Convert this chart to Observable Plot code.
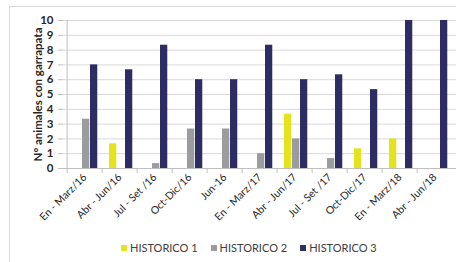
<!DOCTYPE html>
<html>
<head>
<meta charset="utf-8">
<script src="https://cdn.jsdelivr.net/npm/d3@7"></script>
<script src="https://cdn.jsdelivr.net/npm/@observablehq/plot@0.6"></script>
<style>
  html, body { margin: 0; padding: 0; background: #fff; }
  body { width: 456px; height: 262px; position: relative; overflow: hidden; font-family: Lato, "Open Sans", sans-serif; }
  #border { position: absolute; left: 9px; top: 6px; width: 460px; height: 270px; border-left: 1px solid #d9d9d9; border-top: 1px solid #d9d9d9; box-sizing: border-box; }
  #chart { position: absolute; left: 0; top: 0; }
  #chart svg { overflow: visible; }
  g[aria-label="y-axis label"] text { font-weight: bold; }
  g[aria-label="y-axis tick label"] text { font-weight: bold; }
  #legend { position: absolute; left: 121px; top: 241px; display: flex; align-items: center; font-size: 11px; color: #404040; white-space: nowrap; }
  #legend .item { display: flex; align-items: center; margin-right: 13px; }
  #legend .sw { width: 6px; height: 6px; margin-right: 3px; }
</style>
</head>
<body>
<div id="border"></div>
<div id="chart"></div>
<div id="legend"></div>
<script>
const categories = ["En - Marz/16", "Abr - Jun/16", "Jul - Set /16", "Oct-Dic/16", "Jun-16", "En - Marz/17", "Abr - Jun/17", "Jul - Set /17", "Oct-Dic/17", "En - Marz/18", "Abr - Jun/18"];
const seriesNames = ["HISTORICO 1", "HISTORICO 2", "HISTORICO 3"];
const historico1 = [0, 1.67, 0, 0, 0, 0, 3.67, 0, 1.33, 2, 0];
const historico2 = [3.33, 0, 0.33, 2.67, 2.67, 1, 2, 0.67, 0, 0, 0];
const historico3 = [7, 6.67, 8.33, 6, 6, 8.33, 6, 6.33, 5.33, 10, 10];
const colors = ["#e4e31e", "#9a9c9e", "#2d2c63"];
const yTicks = [0, 1, 2, 3, 4, 5, 6, 7, 8, 9, 10];

const W = 456, H = 236, mL = 63, mR = 0, mT = 20, mB = 68;
const step = (W - mL - mR) / categories.length;
const barW = 8, firstOffset = 7;

const seriesValues = [historico1, historico2, historico3];
const barMarks = seriesValues.map((vals, k) => {
  const data = categories.map((c, i) => ({cat: c, value: vals[i]}));
  return Plot.barY(data, {
    x: "cat", y1: 0, y2: "value",
    fill: colors[k],
    insetLeft: firstOffset + barW * k,
    insetRight: step - (firstOffset + barW * (k + 1))
  });
});

const chart = Plot.plot({
  width: W, height: H,
  marginLeft: mL, marginRight: mR, marginTop: mT, marginBottom: mB,
  style: { fontFamily: "Lato, 'Open Sans', sans-serif", fontSize: "11px", color: "#262626", background: "transparent" },
  x: { type: "band", domain: categories, padding: 0, label: null },
  y: { domain: [0, 10], label: "N° animales con garrapata" },
  marks: [
    Plot.gridY(yTicks.slice(1), { stroke: "#d9d9d9", strokeOpacity: 1 }),
    Plot.axisY(yTicks, { tickSize: 5, tickPadding: 5, stroke: "#bfbfbf", label: "N° animales con garrapata", labelAnchor: "center", labelArrow: "none", labelOffset: 30, fontSize: 11.5 }),
    Plot.ruleX([categories[0]], { x: d => d, dx: -step / 2, y1: 0, y2: 10, stroke: "#bfbfbf" }),
    Plot.axisX({ tickSize: 5, tickFormat: () => "", dx: -step / 2, stroke: "#bfbfbf", label: null }),
    Plot.axisX({ tickSize: 0, tickRotate: -45, tickPadding: 7, label: null, fontSize: 10.5, fill: "#262626" }),
    ...barMarks,
    Plot.ruleY([0], { stroke: "#bfbfbf" })
  ]
});
document.getElementById("chart").appendChild(chart);

const legend = document.getElementById("legend");
seriesNames.forEach((name, k) => {
  const item = document.createElement("div");
  item.className = "item";
  const sw = document.createElement("span");
  sw.className = "sw";
  sw.style.background = colors[k];
  const label = document.createElement("span");
  label.textContent = name;
  item.appendChild(sw);
  item.appendChild(label);
  legend.appendChild(item);
});
</script>
</body>
</html>
